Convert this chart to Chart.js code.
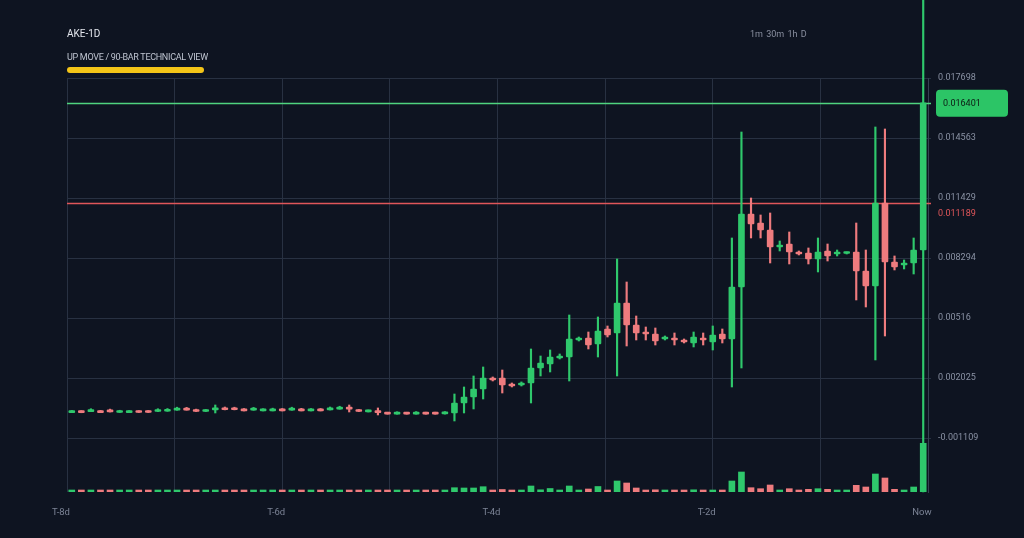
<!DOCTYPE html>
<html>
<head>
<meta charset="utf-8">
<script src="https://cdn.jsdelivr.net/npm/chart.js@4.4.1/dist/chart.umd.min.js"></script>
<style>
html,body{margin:0;padding:0;background:#0e1421;overflow:hidden}
#wrap{position:relative;width:1024px;height:538px}
canvas{position:absolute;left:0;top:0}
.t{position:absolute;font-family:Roboto,sans-serif;white-space:nowrap;line-height:1}
#sym{left:67px;top:29px;font-size:10px;color:#e4e7ee}
#sub{left:67px;top:53px;font-size:9px;color:#bfc5d1;letter-spacing:-0.3px}
#hl{position:absolute;left:67px;top:67px;width:137px;height:6px;border-radius:3px;background:#f4c518}
#tf{left:750px;top:30px;font-size:9px;color:#8a90a0;word-spacing:1px}
</style>
</head>
<body>
<div id="wrap">
<canvas id="c" width="1024" height="538"></canvas>
<div class="t" id="sym">AKE-1D</div>
<div class="t" id="sub">UP MOVE / 90-BAR TECHNICAL VIEW</div>
<div id="hl"></div>
<div class="t" id="tf">1m 30m 1h D</div>
</div>
<script>
// 90 daily bars, prices
const opens = [
  0.000220, 0.000310, 0.000270, 0.000310, 0.000345, 0.000225, 0.000220, 0.000310, 0.000315, 0.000275,
  0.000290, 0.000345, 0.000435, 0.000360, 0.000275, 0.000360, 0.000450, 0.000450, 0.000400, 0.000345,
  0.000310, 0.000310, 0.000400, 0.000345, 0.000400, 0.000310, 0.000400, 0.000360, 0.000400, 0.000485,
  0.000360, 0.000255, 0.000310, 0.000225, 0.000140, 0.000225, 0.000140, 0.000225, 0.000225, 0.000150,
  0.000198, 0.000720, 0.001033, 0.001451, 0.002026, 0.002026, 0.001712, 0.001660, 0.001765, 0.002549,
  0.002758, 0.003070, 0.003123, 0.004011, 0.004116, 0.003802, 0.004586, 0.004377, 0.005944, 0.004795,
  0.004429, 0.004325, 0.004064, 0.004116, 0.004011, 0.003855, 0.004116, 0.003907, 0.004325, 0.004064,
  0.006780, 0.010594, 0.010123, 0.009758, 0.008870, 0.009026, 0.008609, 0.008556, 0.008243, 0.008661,
  0.008504, 0.008530, 0.008609, 0.007616, 0.006832, 0.011168, 0.008086, 0.007930, 0.008034, 0.008713
];
const closes = [
  0.000310, 0.000220, 0.000360, 0.000220, 0.000255, 0.000315, 0.000310, 0.000225, 0.000225, 0.000360,
  0.000380, 0.000435, 0.000350, 0.000275, 0.000360, 0.000450, 0.000365, 0.000365, 0.000310, 0.000435,
  0.000400, 0.000400, 0.000310, 0.000435, 0.000310, 0.000400, 0.000310, 0.000450, 0.000485, 0.000400,
  0.000275, 0.000345, 0.000220, 0.000140, 0.000225, 0.000140, 0.000225, 0.000140, 0.000140, 0.000235,
  0.000720, 0.001033, 0.001451, 0.002026, 0.001921, 0.001660, 0.001608, 0.001765, 0.002549, 0.002810,
  0.003123, 0.003175, 0.004064, 0.004116, 0.003750, 0.004482, 0.004273, 0.005944, 0.004795, 0.004377,
  0.004325, 0.003959, 0.004168, 0.004011, 0.003907, 0.004168, 0.004011, 0.004273, 0.004064, 0.006780,
  0.010594, 0.010071, 0.009758, 0.008870, 0.008974, 0.008609, 0.008504, 0.008243, 0.008609, 0.008400,
  0.008609, 0.008582, 0.007616, 0.006832, 0.011168, 0.008086, 0.007825, 0.008034, 0.008713, 0.016401
];
const highs = [
  0.000330, 0.000320, 0.000420, 0.000330, 0.000400, 0.000340, 0.000325, 0.000320, 0.000325, 0.000420,
  0.000430, 0.000500, 0.000490, 0.000400, 0.000380, 0.000616, 0.000510, 0.000500, 0.000430, 0.000490,
  0.000420, 0.000450, 0.000430, 0.000500, 0.000440, 0.000430, 0.000430, 0.000510, 0.000550, 0.000616,
  0.000380, 0.000355, 0.000460, 0.000235, 0.000260, 0.000235, 0.000270, 0.000240, 0.000240, 0.000270,
  0.001190, 0.001556, 0.002131, 0.002601, 0.002080, 0.002444, 0.001765, 0.001820, 0.003541, 0.003175,
  0.003489, 0.003280, 0.005317, 0.004168, 0.004429, 0.005213, 0.004743, 0.008243, 0.007041, 0.005265,
  0.004690, 0.004638, 0.004220, 0.004377, 0.004064, 0.004429, 0.004377, 0.004743, 0.004586, 0.009340,
  0.014877, 0.011429, 0.010542, 0.010646, 0.009183, 0.009654, 0.008661, 0.008818, 0.009340, 0.009026,
  0.008713, 0.008609, 0.010123, 0.008713, 0.015139, 0.015034, 0.008400, 0.008191, 0.009340, 0.022500
];
const lows = [
  0.000215, 0.000210, 0.000265, 0.000215, 0.000250, 0.000220, 0.000215, 0.000220, 0.000220, 0.000270,
  0.000285, 0.000340, 0.000345, 0.000270, 0.000270, 0.000198, 0.000360, 0.000360, 0.000305, 0.000340,
  0.000305, 0.000305, 0.000305, 0.000340, 0.000305, 0.000305, 0.000305, 0.000355, 0.000395, 0.000250,
  0.000270, 0.000250, 0.000095, 0.000135, 0.000135, 0.000135, 0.000135, 0.000135, 0.000135, 0.000140,
  -0.000220, 0.000198, 0.000407, 0.000929, 0.001870, 0.001242, 0.001556, 0.001608, 0.000720, 0.002131,
  0.002340, 0.003019, 0.001869, 0.003959, 0.003541, 0.003123, 0.004168, 0.002131, 0.003698, 0.004011,
  0.004011, 0.003750, 0.004011, 0.003750, 0.003855, 0.003646, 0.003750, 0.003489, 0.003855, 0.001556,
  0.002549, 0.009340, 0.009340, 0.008034, 0.008661, 0.007982, 0.008452, 0.007982, 0.007564, 0.008138,
  0.008400, 0.008504, 0.006101, 0.005735, 0.002967, 0.004220, 0.007669, 0.007721, 0.007459, -0.003930
];
const volumes = [
  20, 20, 20, 20, 20, 20, 20, 20, 20, 20,
  20, 20, 20, 20, 20, 20, 20, 20, 20, 20,
  20, 20, 20, 20, 20, 20, 20, 20, 20, 20,
  20, 20, 20, 20, 20, 20, 20, 20, 20, 20,
  43, 40, 40, 53, 20, 25, 20, 20, 60, 22,
  35, 20, 60, 20, 30, 55, 20, 110, 90, 40,
  20, 22, 20, 20, 20, 22, 20, 20, 20, 110,
  200, 43, 33, 70, 17, 33, 20, 27, 33, 27,
  17, 17, 67, 50, 180, 140, 27, 17, 50, 487
];

const xTickValues = [-0.5, 10.75, 22, 33.25, 44.5, 55.75, 67, 78.25, 89.5];
const xTickLabels = ['T-8d', '', 'T-6d', '', 'T-4d', '', 'T-2d', '', 'Now'];
const yTickValues = [0.017698, 0.014563, 0.011429, 0.008294, 0.00516, 0.002025, -0.001109];
const resistance = 0.016401;
const support = 0.011189;

const UP = '#2fc86c', DOWN = '#ee7b7e', GRID = '#283142';
const labels = opens.map((_, i) => i);
const colors = closes.map((c, i) => c >= opens[i] ? UP : DOWN);

// level lines + price tags on the right
const levels = {
  id: 'levels',
  beforeDatasetsDraw(chart) {
    const { ctx, chartArea: a, scales: { y } } = chart;
    ctx.save();
    ctx.lineWidth = 1.6;
    [[resistance, '#4fd47f'], [support, '#e0565a']].forEach(([v, c]) => {
      const py = Math.round(y.getPixelForValue(v)) + 0.5;
      ctx.strokeStyle = c;
      ctx.beginPath(); ctx.moveTo(a.left, py); ctx.lineTo(a.right + 3, py); ctx.stroke();
    });
    ctx.restore();
  },
  afterDraw(chart) {
    const { ctx, chartArea: a, scales: { y } } = chart;
    ctx.save();
    const gy = y.getPixelForValue(resistance);
    ctx.fillStyle = '#2cc566';
    ctx.beginPath(); ctx.roundRect(a.right + 8, gy - 13, 72, 27, 4); ctx.fill();
    ctx.font = '9px Roboto';
    ctx.textBaseline = 'middle';
    ctx.fillStyle = '#0c1a14';
    ctx.fillText(String(resistance), a.right + 15, gy + 0.5);
    ctx.fillStyle = '#e0565a';
    ctx.fillText(String(support), a.right + 10, y.getPixelForValue(support) + 11);
    ctx.restore();
  }
};

new Chart(document.getElementById('c'), {
  type: 'bar',
  data: {
    labels: labels,
    datasets: [
      { label: 'Volume', data: volumes, yAxisID: 'yv', xAxisID: 'x', order: 3, grouped: false,
        backgroundColor: colors, barThickness: 6, minBarLength: 2 },
      { label: 'Wick', data: lows.map((l, i) => [l, highs[i]]), yAxisID: 'y', xAxisID: 'x', order: 2, grouped: false,
        backgroundColor: colors, barThickness: 1.5, clip: false },
      { label: 'Body', data: opens.map((o, i) => [o, closes[i]]), yAxisID: 'y', xAxisID: 'x', order: 1, grouped: false,
        backgroundColor: colors, barThickness: 6, minBarLength: 2, borderRadius: 1, borderSkipped: false }
    ]
  },
  options: {
    responsive: false,
    animation: false,
    layout: { padding: { left: 67, top: 78, right: 0, bottom: 0 } },
    plugins: { legend: { display: false }, tooltip: { enabled: false } },
    scales: {
      x: { type: 'category', display: false, offset: true },
      xg: {
        type: 'linear', position: 'bottom', min: -0.5, max: 89.5, offset: false,
        afterBuildTicks: s => { s.ticks = xTickValues.map(v => ({ value: v })); },
        afterFit: s => { s.height = 46; },
        grid: { color: GRID, drawTicks: false, offset: false },
        border: { display: false },
        ticks: { color: '#7b8395', font: { family: 'Roboto', size: 9.5 }, padding: 15, labelOffset: -6,
                 maxRotation: 0, autoSkip: false, callback: (v, i) => xTickLabels[i] }
      },
      y: {
        type: 'linear', position: 'right', min: -0.00393, max: 0.017698,
        afterBuildTicks: s => { s.ticks = yTickValues.map(v => ({ value: v })); },
        afterFit: s => { s.width = 96; },
        grid: { color: GRID, drawTicks: true, tickLength: 3 },
        border: { color: '#364052' },
        ticks: { color: '#8a92a4', font: { family: 'Roboto', size: 9 }, padding: 7, callback: v => String(v) }
      },
      yv: { type: 'linear', display: false, min: 0, max: 4140 }
    }
  },
  plugins: [levels]
});
</script>
</body>
</html>
